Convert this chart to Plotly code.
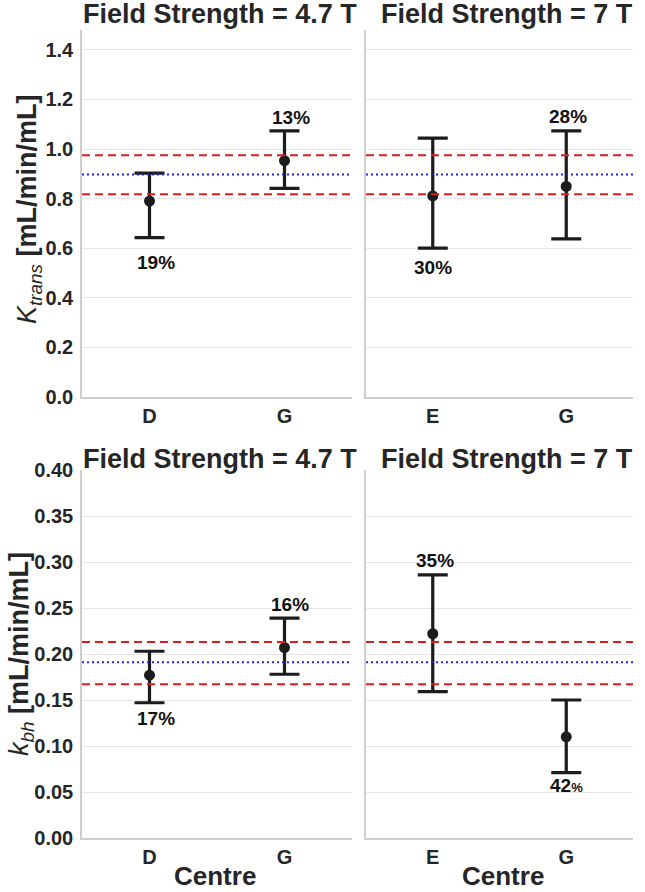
import plotly.graph_objects as go
from plotly.subplots import make_subplots

# ---------------- data ----------------
centres_47 = ["D", "G"]
centres_7 = ["E", "G"]

ktrans_mean_47 = [0.790, 0.953]
ktrans_upper_47 = [0.903, 1.073]
ktrans_lower_47 = [0.643, 0.841]
ktrans_mean_7 = [0.811, 0.849]
ktrans_upper_7 = [1.044, 1.073]
ktrans_lower_7 = [0.600, 0.638]

kbh_mean_47 = [0.177, 0.207]
kbh_upper_47 = [0.203, 0.239]
kbh_lower_47 = [0.147, 0.178]
kbh_mean_7 = [0.222, 0.110]
kbh_upper_7 = [0.286, 0.150]
kbh_lower_7 = [0.159, 0.071]

ktrans_ref = [0.818, 0.897, 0.975]   # lower, mean, upper
kbh_ref = [0.167, 0.191, 0.213]

cov_ktrans_47 = ["19%", "13%"]
cov_ktrans_7 = ["30%", "28%"]
cov_kbh_47 = ["17%", "16%"]
cov_kbh_7 = ["35%", "42<span style='font-size:13px'>%</span>"]

# label placement: True = above the upper cap, False = below the lower cap
above_ktrans_47 = [False, True]
above_ktrans_7 = [False, True]
above_kbh_47 = [False, True]
above_kbh_7 = [True, False]

# ---------------- layout helpers ----------------
W, H = 645, 892
FONT = "Liberation Sans"
TXT = "#262626"

def px_x(p):
    return p / W

def px_y(p):
    return 1 - p / H

fig = make_subplots(rows=2, cols=2)

panels = [
    (1, 1, centres_47, ktrans_mean_47, ktrans_upper_47, ktrans_lower_47, cov_ktrans_47, above_ktrans_47, ktrans_ref),
    (1, 2, centres_7, ktrans_mean_7, ktrans_upper_7, ktrans_lower_7, cov_ktrans_7, above_ktrans_7, ktrans_ref),
    (2, 1, centres_47, kbh_mean_47, kbh_upper_47, kbh_lower_47, cov_kbh_47, above_kbh_47, kbh_ref),
    (2, 2, centres_7, kbh_mean_7, kbh_upper_7, kbh_lower_7, cov_kbh_7, above_kbh_7, kbh_ref),
]

# pixel shifts of the CoV labels
label_shift = {
    (1, 1): [(6, -25), (6, 13)],
    (1, 2): [(0, -19), (2, 14)],
    (2, 1): [(6, -16), (5, 14)],
    (2, 2): [(2, 14), (0, -13)],
}

for (r, c, cats, mean, up, lo, cov, above, ref) in panels:
    fig.add_trace(
        go.Scatter(
            x=cats, y=mean, mode="markers",
            marker=dict(size=11, color="#1c1c1c"),
            error_y=dict(
                type="data", symmetric=False,
                array=[u - m for u, m in zip(up, mean)],
                arrayminus=[m - l for m, l in zip(mean, lo)],
                color="#1c1c1c", thickness=3.2, width=15,
            ),
            showlegend=False, hoverinfo="skip",
        ),
        row=r, col=c,
    )
    idx = (r - 1) * 2 + c
    xref = "x" if idx == 1 else f"x{idx}"
    yref = "y" if idx == 1 else f"y{idx}"
    # reference lines
    for val, colr, dash in [(ref[0], "#dc1e1e", "8px,5px"),
                            (ref[2], "#dc1e1e", "8px,5px"),
                            (ref[1], "#2626cc", "2px,3px")]:
        fig.add_shape(type="line", xref=f"{xref} domain", yref=yref,
                      x0=0, x1=1, y0=val, y1=val, layer="above",
                      line=dict(color=colr, width=2, dash=dash))
    # CoV labels
    for i, cat in enumerate(cats):
        yv = up[i] if above[i] else lo[i]
        dx, dy = label_shift[(r, c)][i]
        fig.add_annotation(x=i, y=yv, xref=xref, yref=yref, text=f"<b>{cov[i]}</b>",
                           showarrow=False, xshift=dx, yshift=dy,
                           xanchor="center", yanchor="middle",
                           font=dict(family=FONT, size=19, color="#111111"))

# domains
xdom_left = [px_x(82), px_x(352)]
xdom_right = [px_x(366), px_x(633)]
ydom_top = [px_y(397), px_y(30)]
ydom_bot = [px_y(838), px_y(470)]

axis_common = dict(showline=True, linecolor="#cfcfcf", linewidth=1.5,
                   zeroline=False, fixedrange=True, automargin=False)
tickfont = dict(family=FONT, size=20, color=TXT, weight="bold")

for idx, (xd, yd) in enumerate([(xdom_left, ydom_top), (xdom_right, ydom_top),
                                (xdom_left, ydom_bot), (xdom_right, ydom_bot)], start=1):
    xa = "xaxis" if idx == 1 else f"xaxis{idx}"
    ya = "yaxis" if idx == 1 else f"yaxis{idx}"
    top = idx <= 2
    fig.layout[xa].update(domain=xd, type="category", range=[-0.5, 1.5],
                          showgrid=False, ticks="", tickfont=tickfont, **axis_common)
    fig.layout[ya].update(domain=yd,
                          range=[0, 1.48] if top else [0, 0.40],
                          dtick=0.2 if top else 0.05,
                          tick0=0,
                          tickformat=".1f" if top else ".2f",
                          showgrid=True, gridcolor="#e6e6e6", gridwidth=1,
                          showticklabels=(idx % 2 == 1),
                          ticks="outside", ticklen=3, tickcolor="rgba(0,0,0,0)",
                          tickfont=tickfont, **axis_common)

title_font = dict(family=FONT, size=27, color=TXT, weight="bold")
for (xc, yc, t) in [(220, 14, "Field Strength = 4.7 T"), (507, 14, "Field Strength = 7 T"),
                    (220, 459, "Field Strength = 4.7 T"), (507, 459, "Field Strength = 7 T")]:
    fig.add_annotation(x=px_x(xc), y=px_y(yc), xref="paper", yref="paper", text=t,
                       showarrow=False, xanchor="center", yanchor="middle", font=title_font)

for (xc, t) in [(215, "Centre"), (503, "Centre")]:
    fig.add_annotation(x=px_x(xc), y=px_y(876), xref="paper", yref="paper", text=t,
                       showarrow=False, xanchor="center", yanchor="middle", borderpad=0,
                       font=dict(family=FONT, size=26, color=TXT, weight="bold"))

ylab_font = dict(family=FONT, size=27, color=TXT)
fig.add_annotation(x=px_x(29), y=px_y(209), xref="paper", yref="paper",
                   text="<i>K</i><sub><i>trans</i></sub> <b>[mL/min/mL]</b>",
                   textangle=-90, showarrow=False, xanchor="center", yanchor="middle",
                   font=ylab_font)
fig.add_annotation(x=px_x(21), y=px_y(654), xref="paper", yref="paper",
                   text="<i>k</i><sub><i>bh</i></sub> <b>[mL/min/mL]</b>",
                   textangle=-90, showarrow=False, xanchor="center", yanchor="middle",
                   font=ylab_font)

fig.update_layout(width=W, height=H, margin=dict(l=0, r=0, t=0, b=0, autoexpand=False),
                  paper_bgcolor="white", plot_bgcolor="white",
                  font=dict(family=FONT, color=TXT))

fig.write_html("out.html", config={"displayModeBar": False},
               post_script="document.body.style.margin='0';document.body.style.overflow='hidden';")
